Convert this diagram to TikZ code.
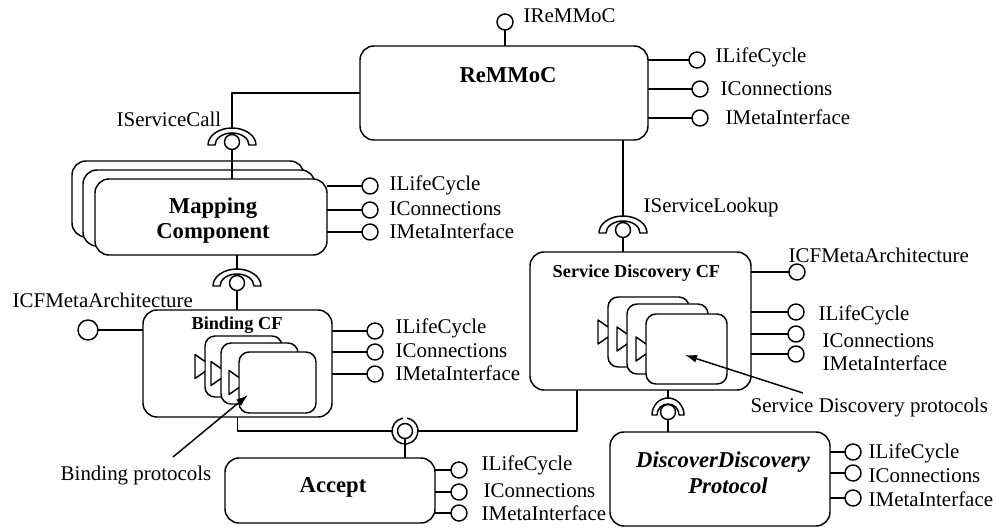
\documentclass[tikz,border=0pt]{standalone}
\usepackage{fontspec}
\setmainfont{Liberation Serif}
\usetikzlibrary{calc,arrows.meta}

\begin{document}
\begin{tikzpicture}[x=0.75pt,y=-0.75pt,
  line width=1.1pt, line join=round,
  comp/.style={draw, fill=white, rounded corners=10.5pt, inner sep=0pt, outer sep=0pt},
  part/.style={draw, fill=white, rounded corners=7.5pt, inner sep=0pt, outer sep=0pt},
  sz/.style 2 args={minimum width=#1*0.75pt, minimum height=#2*0.75pt},
  iface/.style={draw, fill=white, circle, minimum size=12pt, inner sep=0pt, outer sep=0pt},
  ball/.style={draw, fill=white, circle, minimum size=11.25pt, inner sep=0pt, outer sep=0pt},
  ilabel/.style={font=\fontsize{15.7}{18}\selectfont, inner sep=0pt, anchor=base west},
  title/.style={font=\fontsize{17}{19}\selectfont\bfseries, inner sep=0pt, anchor=base},
  cftitle/.style={font=\fontsize{13.7}{16}\selectfont\bfseries, inner sep=0pt, anchor=base west},
  pointer/.style={-{Latex[length=9pt,width=6pt]}},
  pics/socket/.style n args={4}{code={
      \draw[fill=white] (-#1,3) arc[start angle=180,end angle=0,x radius=#1*0.75pt,y radius=#2*0.75pt]
        -- (#3,3) arc[start angle=0,end angle=180,x radius=#3*0.75pt,y radius=#4*0.75pt] -- cycle;
      \coordinate (-top) at (0,3-#2);
  }},
  pics/port/.style={code={
      \fill[white] (-0.75,-5) -- (-10,-12) -- (-10,12) -- (-0.75,5) -- cycle;
      \draw (0,-5) -- (-10,-12) -- (-10,12) -- (0,5);
  }},
]
\useasboundingbox (0,0) rectangle (999,528);

% ---------------- ReMMoC ----------------
\node[comp, sz={288}{94}] (remmoc) at (504,93) {};
\node[title] (remmoclbl) at (508,83) {ReMMoC};
\node[iface] (ir) at (505,22) {};
\draw (ir) -- (ir |- remmoc.north);
\node[ilabel] (irt) at (523,23) {IReMMoC};
\foreach \nm/\cx/\cy/\tx/\ty/\txt in {rl/697/60/715/63/ILifeCycle, rc/700/89/720/95/IConnections, rm/700/118/725/124/IMetaInterface}{
  \node[iface] (\nm) at (\cx,\cy) {};
  \draw (\nm) -- (\nm -| remmoc.east);
  \node[ilabel] (\nm-t) at (\tx,\ty) {\txt};
}

% ---------------- Mapping Component (stacked) ----------------
\node[comp, sz={232}{76}] (mapb) at (188,199) {};
\node[comp, sz={232}{76}] (mapm) at (199,208) {};
\node[comp, sz={232}{76}] (map) at (211,217) {};
\node[font=\fontsize{17}{18.75}\selectfont\bfseries, align=center, inner sep=0pt] (maplbl) at (213,221) {Mapping\\Component};
\foreach \nm/\cx/\cy/\tx/\ty/\txt in {ml/370/186/389/190/ILifeCycle, mc/370/210/389/215/IConnections, mm/370/232/389/238/IMetaInterface}{
  \node[iface] (\nm) at (\cx,\cy) {};
  \draw (\nm) -- (\nm -| map.east);
  \node[ilabel] (\nm-t) at (\tx,\ty) {\txt};
}

% IServiceCall
\pic (scs) at (232,142) {socket={24}{17}{17}{12}};
\node[ball] (scb) at (232,142) {};
\node[ilabel, anchor=base east] (sct) at (222,127) {IServiceCall};
\draw (remmoc.west) -| (scs-top);
\draw (scb) -- (scb |- map.north);

% ---------------- Binding CF ----------------
\node[comp, sz={189}{107}] (bind) at (237.5,363.5) {};
\node[cftitle, anchor=base] (bindlbl) at (237,329) {Binding CF};
\node[iface, minimum size=15pt] (bicf) at (88,330) {};
\draw (bicf) -- (bicf -| bind.west);
\node[ilabel] (bicft) at (12,307) {ICFMetaArchitecture};
\foreach \nm/\cx/\cy/\tx/\ty/\txt in {bl/375/331/395/333/ILifeCycle, bc/375/352/395/357/IConnections, bm/375/374/395/380/IMetaInterface}{
  \node[iface] (\nm) at (\cx,\cy) {};
  \draw (\nm) -- (\nm -| bind.east);
  \node[ilabel] (\nm-t) at (\tx,\ty) {\txt};
}
% binding protocol components
\node[part, sz={77}{61}] (bp1) at (243.5,366.5) {};
\pic at (bp1.west) {port};
\node[part, sz={77}{61}] (bp2) at (259.5,373.5) {};
\pic at (bp2.west) {port};
\node[part, sz={77}{61}] (bp3) at (277.5,382.5) {};
\pic at (bp3.west) {port};

% Mapping -> Binding CF
\pic (mbs) at (237,283) {socket={24}{17}{17}{12}};
\node[ball] (mbb) at (237,283) {};
\draw (mbs-top) -- (mbs-top |- map.south);
\draw (mbb) -- (mbb |- bind.north);

% ---------------- Service Discovery CF ----------------
\node[comp, sz={221}{138}] (sd) at (640.5,321) {};
\node[cftitle] (sdlbl) at (552,277) {Service Discovery CF};
\node[iface] (sdicf) at (797,272) {};
\draw (sdicf) -- (sdicf -| sd.east);
\node[ilabel] (sdicft) at (788,262) {ICFMetaArchitecture};
\foreach \nm/\cx/\cy/\tx/\ty/\txt in {sl/796/312/818/320/ILifeCycle, sc/796/334/822/347/IConnections, sm/796/354/822/370/IMetaInterface}{
  \node[iface] (\nm) at (\cx,\cy) {};
  \draw (\nm) -- (\nm -| sd.east);
  \node[ilabel] (\nm-t) at (\tx,\ty) {\txt};
}
% discovery protocol components
\node[part, sz={81}{70}] (sp1) at (648.5,332) {};
\pic at (sp1.west) {port};
\node[part, sz={81}{70}] (sp2) at (667.5,339) {};
\pic at (sp2.west) {port};
\node[part, sz={81}{70}] (sp3) at (686.5,349) {};
\pic at (sp3.west) {port};

% IServiceLookup
\pic (sls) at (623,230) {socket={24}{17}{17}{12}};
\node[ball] (slb) at (623,230) {};
\node[ilabel] (slt) at (643,212) {IServiceLookup};
\draw (remmoc.south -| slb) -- (sls-top);
\draw (slb) -- (slb |- sd.north);

% ---------------- DiscoverDiscovery Protocol ----------------
\node[comp, sz={220}{94}] (dd) at (720,479) {};
\node[title, font=\fontsize{17}{19}\selectfont\bfseries\itshape] (ddl1) at (723,467) {DiscoverDiscovery};
\node[title, font=\fontsize{17}{19}\selectfont\bfseries\itshape] (ddl2) at (728,493) {Protocol};
\foreach \nm/\cx/\cy/\tx/\ty/\txt in {dl/853/452/868/458/ILifeCycle, dc/853/473/868/482/IConnections, dm/853/498/868/506/IMetaInterface}{
  \node[iface] (\nm) at (\cx,\cy) {};
  \draw (\nm) -- (\nm -| dd.east);
  \node[ilabel] (\nm-t) at (\tx,\ty) {\txt};
}
\pic (dds) at (668,412) {socket={16}{17}{11}{11}};
\node[ball] (ddb) at (668,412) {};
\draw (sd.south -| ddb) -- (dds-top);
\draw (ddb) -- (ddb |- dd.north);

% ---------------- Accept ----------------
\node[comp, sz={210}{65}] (acc) at (330,490.5) {};
\node[title] (acclbl) at (333,492) {Accept};
\foreach \nm/\cx/\cy/\tx/\ty/\txt in {al/459/470/481/470/ILifeCycle, ac/459/492/483/497/IConnections, am/459/513/481/520/IMetaInterface}{
  \node[iface] (\nm) at (\cx,\cy) {};
  \draw (\nm) -- (\nm -| acc.east);
  \node[ilabel] (\nm-t) at (\tx,\ty) {\txt};
}
% receptacle ring joining Binding CF and Service Discovery CF
\node[circle, minimum size=19.5pt, inner sep=0pt, outer sep=0pt] (ring) at (405,431) {};
\draw (ring.100) arc[start angle=100, end angle=440, radius=9.75pt];
\node[ball] (accb) at (405,431) {};
\draw (bind.south) |- (ring.west);
\draw ($(sd.south west)+(47,0)$) |- (ring.east);
\draw (accb) -- (accb |- acc.north);

% ---------------- annotations ----------------
\node[ilabel] (bpt) at (60,480) {Binding protocols};
\coordinate (bptail) at (173,457);
\coordinate (bptip) at (248,395);
\draw[pointer] (bptail) -- (bptip);

\node[ilabel] (sdpt) at (750,412) {Service Discovery protocols};
\coordinate (sdtail) at (803,393);
\coordinate (sdtip) at (685,355);
\draw[pointer] (sdtail) -- (sdtip);

\end{tikzpicture}
\end{document}
